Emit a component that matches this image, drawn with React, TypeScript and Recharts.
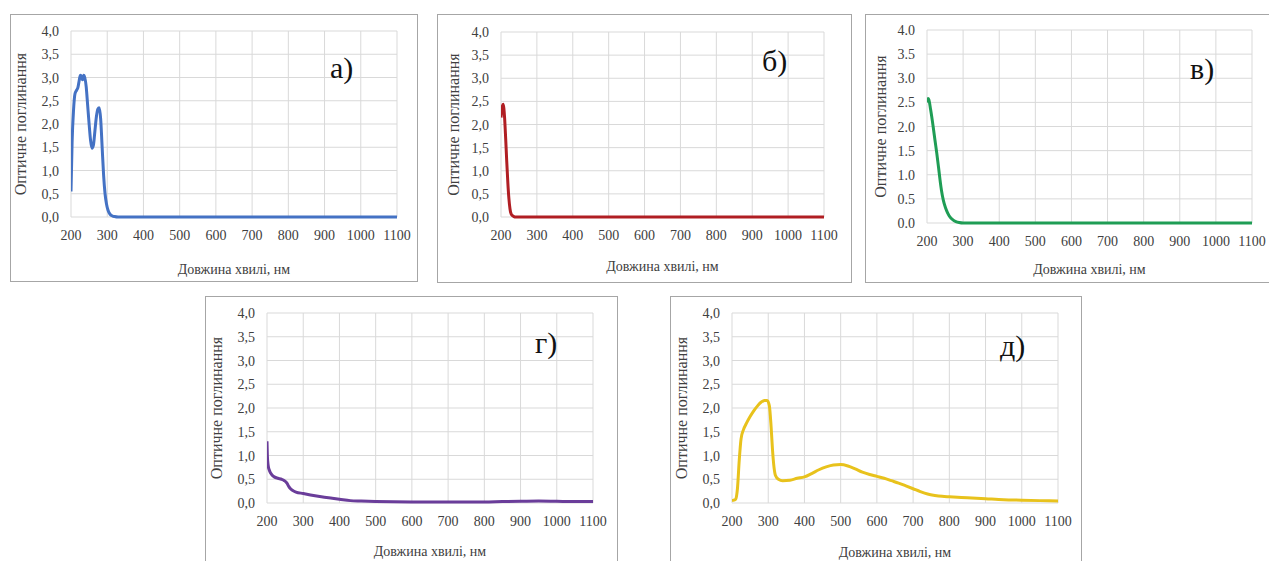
import { LineChart, Line, XAxis, YAxis, CartesianGrid, Label } from 'recharts'

const xTicks = [200, 300, 400, 500, 600, 700, 800, 900, 1000, 1100]
const yTicks = [0, 0.5, 1, 1.5, 2, 2.5, 3, 3.5, 4]

const TAIL = [340, 400, 500, 600, 700, 800, 900, 1000, 1100]

// а) - blue
const wlA = [200, 203, 207, 211, 215, 219, 223, 226, 229, 232, 235, 238, 242, 246, 250, 254, 258, 262, 266, 270, 274, 278, 282, 286, 290, 294, 298, 302, 306, 310, 315, 320, 330, ...TAIL]
const absA = [0.55, 1.6, 2.3, 2.65, 2.72, 2.78, 2.95, 3.05, 3.02, 2.95, 3.05, 3.0, 2.8, 2.4, 2.0, 1.65, 1.48, 1.55, 1.85, 2.15, 2.32, 2.35, 2.1, 1.5, 0.9, 0.5, 0.28, 0.15, 0.08, 0.04, 0.02, 0.01, 0, 0, 0, 0, 0, 0, 0, 0, 0, 0]

// б) - red
const wlB = [200, 202, 204, 206, 208, 210, 213, 216, 219, 222, 225, 228, 232, 236, 240, 260, 300, 400, 500, 600, 700, 800, 900, 1000, 1100]
const absB = [2.15, 2.3, 2.4, 2.44, 2.35, 2.15, 1.7, 1.2, 0.75, 0.4, 0.18, 0.07, 0.03, 0.01, 0, 0, 0, 0, 0, 0, 0, 0, 0, 0, 0]

// в) - green
const wlC = [200, 203, 205, 210, 217, 222, 227, 232, 236, 240, 245, 251, 257, 264, 271, 280, 289, 300, 400, 500, 600, 700, 800, 900, 1000, 1100]
const absC = [2.5, 2.58, 2.56, 2.35, 2.0, 1.72, 1.45, 1.15, 0.9, 0.68, 0.48, 0.32, 0.21, 0.12, 0.07, 0.03, 0.01, 0, 0, 0, 0, 0, 0, 0, 0, 0]

// г) - purple
const wlD = [200, 201, 203, 206, 210, 215, 220, 230, 240, 248, 255, 260, 265, 270, 280, 300, 320, 350, 380, 400, 430, 460, 500, 600, 700, 800, 850, 900, 950, 1000, 1050, 1100]
const absD = [1.3, 1.0, 0.8, 0.7, 0.63, 0.58, 0.55, 0.52, 0.5, 0.47, 0.42, 0.35, 0.3, 0.27, 0.23, 0.2, 0.17, 0.13, 0.1, 0.08, 0.05, 0.04, 0.03, 0.02, 0.02, 0.02, 0.03, 0.035, 0.04, 0.035, 0.03, 0.03]

// д) - yellow
const wlE = [200, 205, 210, 215, 220, 225, 232, 240, 250, 260, 270, 280, 290, 297, 303, 308, 312, 316, 320, 328, 340, 360, 380, 400, 420, 440, 460, 480, 500, 520, 540, 560, 580, 600, 620, 640, 660, 680, 700, 720, 740, 760, 780, 800, 850, 900, 950, 1000, 1050, 1100]
const absE = [0.05, 0.06, 0.08, 0.3, 0.9, 1.35, 1.55, 1.68, 1.82, 1.94, 2.04, 2.12, 2.16, 2.16, 2.05, 1.6, 1.1, 0.75, 0.58, 0.5, 0.47, 0.48, 0.52, 0.55, 0.62, 0.7, 0.76, 0.8, 0.81, 0.78, 0.72, 0.65, 0.6, 0.56, 0.52, 0.47, 0.42, 0.36, 0.3, 0.24, 0.19, 0.16, 0.14, 0.13, 0.11, 0.09, 0.07, 0.06, 0.05, 0.04]

const zip = (wl: number[], ab: number[]) => wl.map((w, i) => ({ wl: w, abs: ab[i] }))

const SERIF = 'Liberation Serif'
const INK = '#404040'

// custom ticks so the serif face is set right on each <text>
const XTick = ({ x, y, payload }: any) => (
  <text x={x} y={y} dy={10} textAnchor="middle" fontFamily={SERIF} fontSize={14} fill={INK}>
    {payload.value}
  </text>
)

const makeYTick = (sep: string) => ({ x, y, payload }: any) => (
  <text x={x} y={y} dy={5} textAnchor="end" fontFamily={SERIF} fontSize={14} fill={INK}>
    {Number(payload.value).toFixed(1).replace('.', sep)}
  </text>
)

interface PanelProps {
  box: [number, number, number, number]
  plot: [number, number, number, number]
  data: { wl: number; abs: number }[]
  color: string
  yLabelX: number
  xLabelBase: number
  sep: string
}

function Panel({ box, plot, data, color, yLabelX, xLabelBase, sep }: PanelProps) {
  const [bl, bt, br, bb] = box
  const [pl, pt, pr, pb] = plot
  const ox = bl + 1
  const oy = bt + 1
  const cw = br - bl - 2
  const ch = bb - bt - 2
  const xAxisH = 60
  const margin = { left: 0, top: pt - oy, right: ox + cw - pr, bottom: oy + ch - pb - xAxisH }

  return (
    <div
      style={{
        position: 'absolute', left: bl, top: bt, width: br - bl, height: bb - bt,
        boxSizing: 'border-box', border: '1px solid #a6a6a6', background: '#fff',
      }}
    >
      <LineChart width={cw} height={ch} data={data} margin={margin}>
        <CartesianGrid stroke="#d9d9d9" />
        <XAxis
          type="number" dataKey="wl" domain={[200, 1100]} ticks={xTicks} allowDataOverflow
          axisLine={false} tickLine={false} tickSize={0} tickMargin={13} height={xAxisH}
          tick={XTick} interval={0}
        >
          <Label
            value="Довжина хвилі, нм" position="insideBottom" offset={pb + xAxisH - xLabelBase}
            fontFamily={SERIF} fontSize={14} fill={INK}
          />
        </XAxis>
        <YAxis
          type="number" domain={[0, 4]} ticks={yTicks} width={pl - ox}
          axisLine={false} tickLine={false} tickSize={0} tickMargin={12} interval={0}
          tick={makeYTick(sep)}
        >
          <Label
            value="Оптичне поглинання" angle={-90} position="insideLeft" offset={yLabelX - ox}
            fontFamily={SERIF} fontSize={16} fill={INK} style={{ textAnchor: 'middle' }}
          />
        </YAxis>
        <Line
          type="monotone" dataKey="abs" stroke={color} strokeWidth={3}
          dot={false} isAnimationActive={false}
        />
      </LineChart>
    </div>
  )
}

function Letter({ text, x, y }: { text: string; x: number; y: number }) {
  return (
    <div style={{ position: 'absolute', left: x, top: y, fontSize: 30, lineHeight: 1, fontFamily: SERIF, color: '#111' }}>
      {text}
    </div>
  )
}

export default function App() {
  return (
    <div style={{ position: 'absolute', left: 0, top: 0, width: 1269, height: 561, overflow: 'hidden', background: '#fff', fontFamily: SERIF }}>
      <Panel box={[10, 14, 418, 282]} plot={[71, 31, 397, 217]} data={zip(wlA, absA)} color="#4472C4" yLabelX={20} xLabelBase={274} sep="," />
      <Panel box={[437, 14, 852, 283]} plot={[501, 32, 824, 217]} data={zip(wlB, absB)} color="#B01E23" yLabelX={453} xLabelBase={271} sep="," />
      <Panel box={[865, 14, 1290, 283]} plot={[927, 30, 1252, 223]} data={zip(wlC, absC)} color="#1F9D55" yLabelX={880} xLabelBase={274} sep="." />
      <Panel box={[205, 296, 618, 580]} plot={[267, 313, 593, 503]} data={zip(wlD, absD)} color="#6A3D9A" yLabelX={216} xLabelBase={556} sep="," />
      <Panel box={[670, 296, 1082, 580]} plot={[732, 313, 1058, 503]} data={zip(wlE, absE)} color="#E8C21C" yLabelX={681} xLabelBase={557} sep="," />
      <Letter text="а)" x={330} y={53} />
      <Letter text="б)" x={762} y={46} />
      <Letter text="в)" x={1190} y={54} />
      <Letter text="г)" x={535} y={328} />
      <Letter text="д)" x={1000} y={331} />
    </div>
  )
}
